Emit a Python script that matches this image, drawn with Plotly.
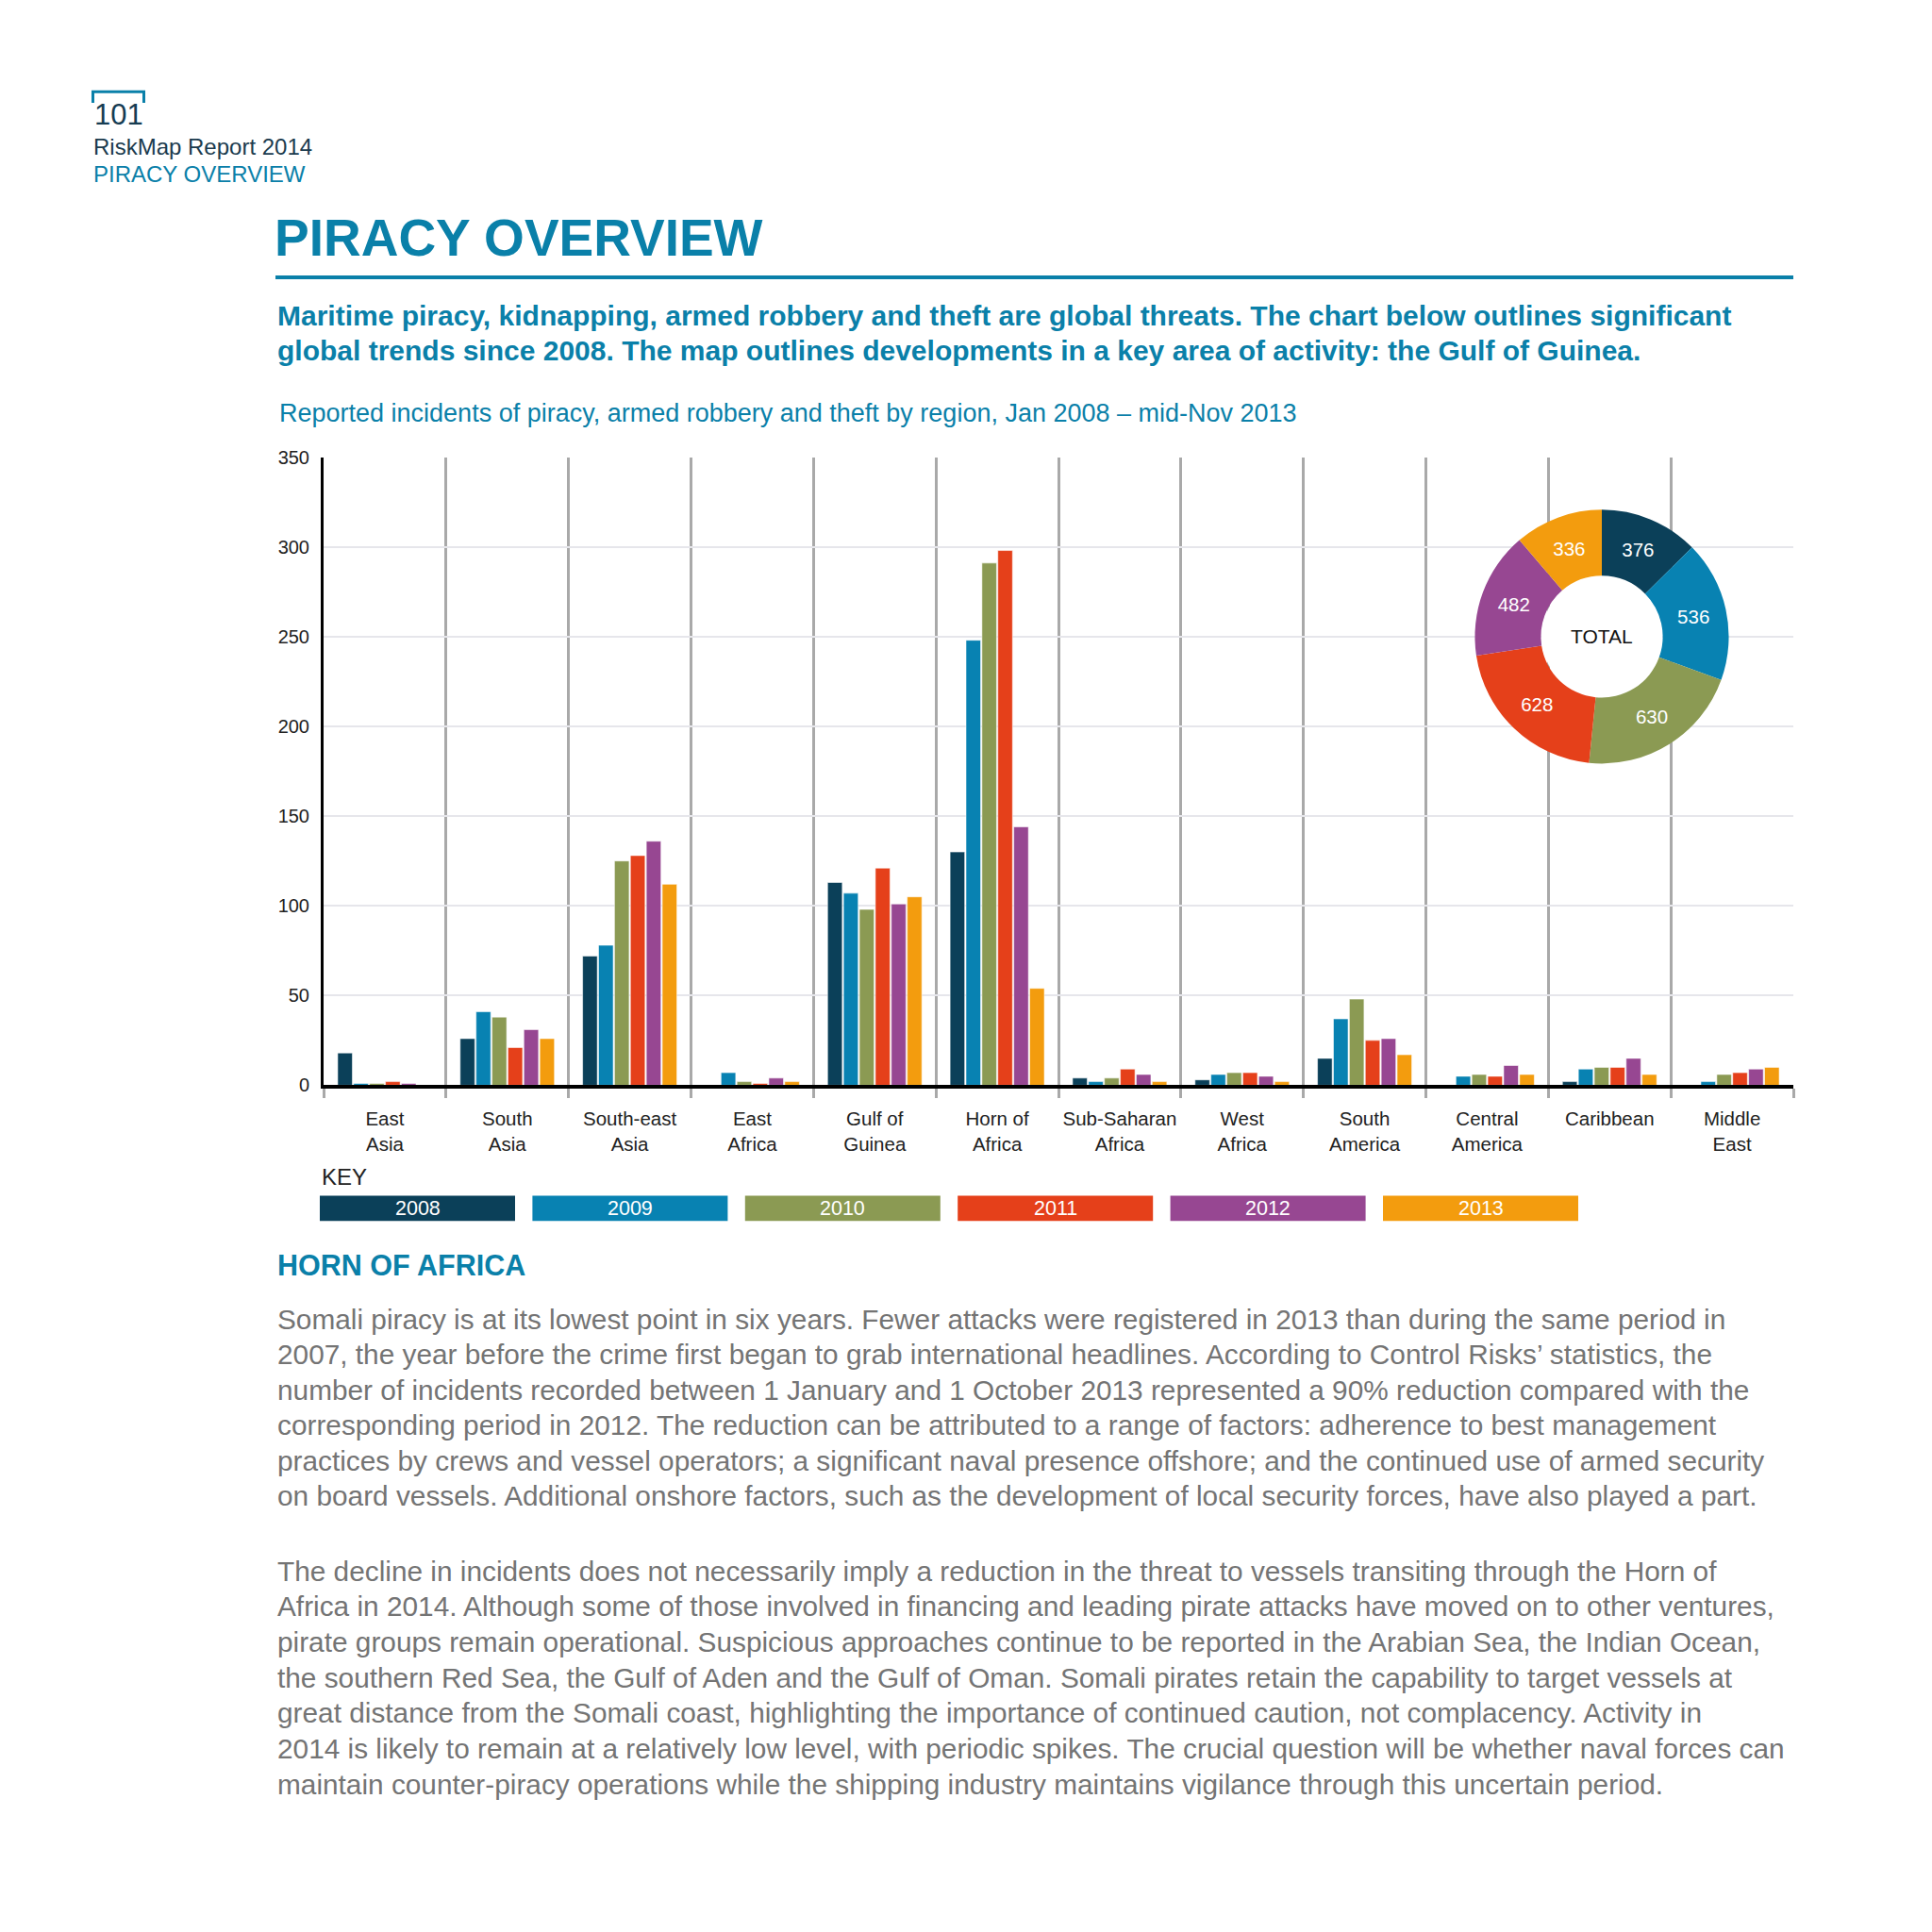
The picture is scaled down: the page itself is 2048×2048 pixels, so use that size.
import plotly.graph_objects as go

# ---------------- data ----------------
regions = ["East<br>Asia", "South<br>Asia", "South-east<br>Asia", "East<br>Africa",
           "Gulf of<br>Guinea", "Horn of<br>Africa", "Sub-Saharan<br>Africa", "West<br>Africa",
           "South<br>America", "Central<br>America", "Caribbean", "Middle<br>East"]
years = ["2008", "2009", "2010", "2011", "2012", "2013"]
v2008 = [18, 26, 72, 0, 113, 130, 4, 3, 15, 0, 2, 0]
v2009 = [1, 41, 78, 7, 107, 248, 2, 6, 37, 5, 9, 2]
v2010 = [1, 38, 125, 2, 98, 291, 4, 7, 48, 6, 10, 6]
v2011 = [2, 21, 128, 1, 121, 298, 9, 7, 25, 5, 10, 7]
v2012 = [1, 31, 136, 4, 101, 144, 6, 5, 26, 11, 15, 9]
v2013 = [0, 26, 112, 2, 105, 54, 2, 2, 17, 6, 6, 10]
totals = [376, 536, 630, 628, 482, 336]
yticks = [0, 50, 100, 150, 200, 250, 300, 350]

colors = ["#0b4059", "#0882b2", "#8b9a53", "#e5401a", "#974792", "#f39c0e"]
TEAL = "#0a80a9"
FONT = "Liberation Sans"

W = H = 2048


def px(x):
    return x / W


def py(y):
    return 1 - y / H


fig = go.Figure()
for yr, vals, col in zip(years, [v2008, v2009, v2010, v2011, v2012, v2013], colors):
    fig.add_trace(go.Bar(x=regions, y=vals, name=yr,
                         marker=dict(color=col, line=dict(color="rgba(255,255,255,0.55)", width=1)),
                         showlegend=False))

# donut
cx, cy, r = 1690, 663, 136
fig.add_trace(go.Pie(values=totals, labels=years, marker=dict(colors=colors, line=dict(width=0)),
                     hole=0.48, sort=False, direction="clockwise", rotation=0,
                     textinfo="value", textposition="inside", insidetextorientation="horizontal",
                     textfont=dict(color="white", size=20.5, family=FONT),
                     domain=dict(x=[px(cx - r), px(cx + r)], y=[py(cy + r), py(cy - r)]),
                     showlegend=False))

shapes = []
annotations = []


def text(x, y, s, size, color, weight="normal", anchor="left", family=FONT):
    annotations.append(dict(x=px(x), y=py(y), xref="paper", yref="paper", text=s,
                            showarrow=False, xanchor=anchor, yanchor="middle",
                            font=dict(size=size, color=color, family=family, weight=weight)))


def line(x0, y0, x1, y1, color, width):
    shapes.append(dict(type="line", xref="paper", yref="paper", x0=px(x0), y0=py(y0),
                       x1=px(x1), y1=py(y1), line=dict(color=color, width=width), layer="above"))


LX = 284  # left edge of main text column

# header
line(89, 79, 146, 79, TEAL, 3)
line(90.5, 78, 90.5, 91, TEAL, 3)
line(144.5, 78, 144.5, 91, TEAL, 3)
text(118, 104, "101", 31, "#163c52", anchor="center")
text(89, 138, "RiskMap Report 2014", 24, "#1b3b4e")
text(89, 167, "PIRACY OVERVIEW", 24, TEAL)
text(LX - 3, 236, "PIRACY OVERVIEW", 55, TEAL, weight="bold")
line(LX, 278, 1893, 278, TEAL, 4)
text(LX, 319, "Maritime piracy, kidnapping, armed robbery and theft are global threats. The chart below outlines significant", 30, TEAL, weight="bold")
text(LX, 356.5, "global trends since 2008. The map outlines developments in a key area of activity: the Gulf of Guinea.", 30, TEAL, weight="bold")
text(LX + 2, 424, "Reported incidents of piracy, armed robbery and theft by region, Jan 2008 – mid-Nov 2013", 27, TEAL)

# donut hole + label
shapes.append(dict(type="circle", xref="paper", yref="paper", x0=px(cx - 64), x1=px(cx + 64),
                   y0=py(cy + 64), y1=py(cy - 64), fillcolor="white", line=dict(width=0), layer="above"))
text(cx, cy, "TOTAL", 21, "#111", anchor="center")

# key
text(331, 1242, "KEY", 24, "#222")
for i, (yr, col) in enumerate(zip(years, colors)):
    x0 = 331 + i * 225.4
    shapes.append(dict(type="rect", xref="paper", yref="paper", x0=px(x0), x1=px(x0 + 207),
                       y0=py(1289), y1=py(1262), fillcolor=col, line=dict(width=0), layer="above"))
    text(x0 + 103.5, 1276, yr, 21.5, "white", anchor="center")

# Horn of Africa section
text(LX, 1336, "HORN OF AFRICA", 30.5, TEAL, weight="bold")
p1 = [
    "Somali piracy is at its lowest point in six years. Fewer attacks were registered in 2013 than during the same period in",
    "2007, the year before the crime first began to grab international headlines. According to Control Risks’ statistics, the",
    "number of incidents recorded between 1 January and 1 October 2013 represented a 90% reduction compared with the",
    "corresponding period in 2012. The reduction can be attributed to a range of factors: adherence to best management",
    "practices by crews and vessel operators; a significant naval presence offshore; and the continued use of armed security",
    "on board vessels. Additional onshore factors, such as the development of local security forces, have also played a part.",
]
p2 = [
    "The decline in incidents does not necessarily imply a reduction in the threat to vessels transiting through the Horn of",
    "Africa in 2014. Although some of those involved in financing and leading pirate attacks have moved on to other ventures,",
    "pirate groups remain operational. Suspicious approaches continue to be reported in the Arabian Sea, the Indian Ocean,",
    "the southern Red Sea, the Gulf of Aden and the Gulf of Oman. Somali pirates retain the capability to target vessels at",
    "great distance from the Somali coast, highlighting the importance of continued caution, not complacency. Activity in",
    "2014 is likely to remain at a relatively low level, with periodic spikes. The crucial question will be whether naval forces can",
    "maintain counter-piracy operations while the shipping industry maintains vigilance through this uncertain period.",
]
for i, s in enumerate(p1):
    text(LX, 1394 + i * 38, s, 29.8, "#747474")
for i, s in enumerate(p2):
    text(LX, 1664 + i * 38.1, s, 29.8, "#747474")

fig.update_layout(
    width=W, height=H, margin=dict(l=0, r=0, t=0, b=0),
    paper_bgcolor="white", plot_bgcolor="white",
    barmode="group", bargap=0.22, bargroupgap=0.08,
    showlegend=False,
    font=dict(family=FONT, color="#222"),
    shapes=shapes, annotations=annotations,
    xaxis=dict(domain=[px(335), px(1893)], type="category", tickson="boundaries",
               showgrid=True, gridcolor="#a9a9a9", gridwidth=2.5,
               ticks="outside", ticklen=10, tickwidth=2.5, tickcolor="#a9a9a9",
               showline=True, linecolor="black", linewidth=4, ticklabelstandoff=14,
               tickangle=0,
               tickfont=dict(size=20.5, color="#222", family=FONT), fixedrange=True),
    yaxis=dict(domain=[py(1143.7), py(470.7)], range=[0, 350], tickvals=yticks,
               showgrid=True, gridcolor="#e6e6eb", gridwidth=1.5,
               showline=True, linecolor="black", linewidth=3, ticks="",
               zeroline=False, ticklabelstandoff=8,
               tickfont=dict(size=20, color="#222", family=FONT), fixedrange=True),
)

fig.write_html("out.html")
